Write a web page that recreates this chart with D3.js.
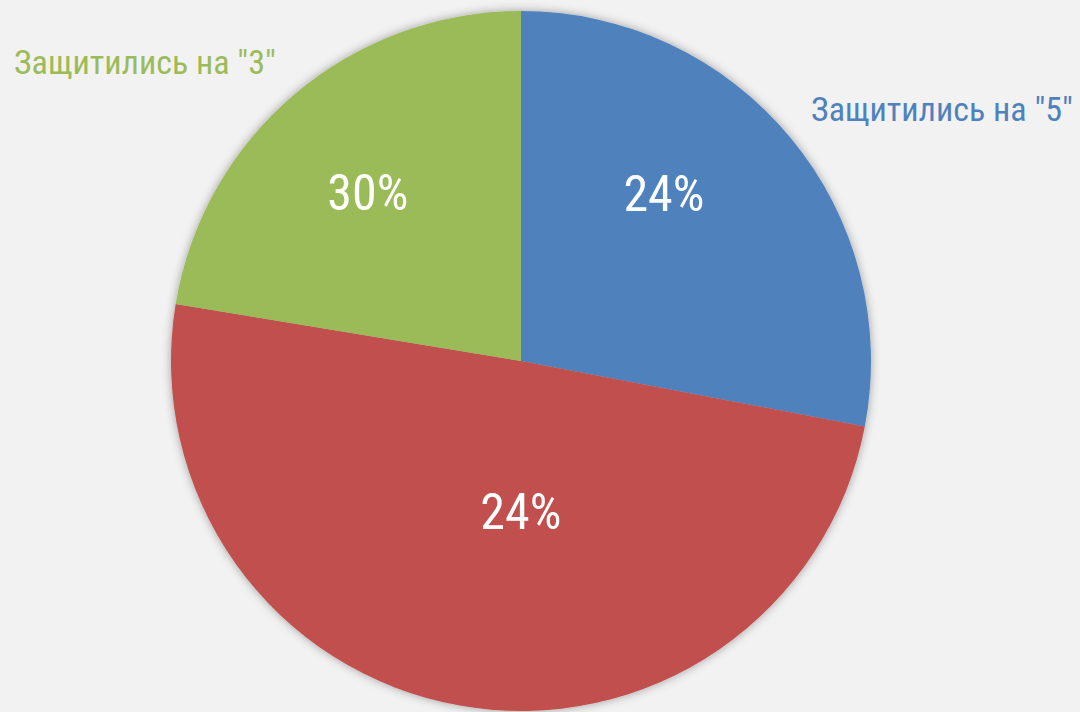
<!DOCTYPE html>
<html>
<head>
  <meta charset="utf-8">
  <script src="https://d3js.org/d3.v7.min.js"></script>
  <style>
    body { margin: 0; background: #f2f2f2; }
    svg { display: block; }
    .cat { font-family: 'Liberation Sans Narrow', 'Roboto Condensed', 'Roboto', sans-serif; font-size: 34px; }
    .pct { font-family: 'Liberation Sans Narrow', 'Roboto Condensed', 'Roboto', sans-serif; font-size: 50px; fill: #fff; }
  </style>
</head>
<body>
<div id="chart"></div>
<script>
  // slice shares (clockwise from 12 o'clock)
  var slices = ["five", "four", "three"];
  var shares = [28.0, 49.6, 22.4];
  var pctLabels = ["24%", "24%", "30%"];
  var catLabels = ["Защитились на \"5\"", "", "Защитились на \"3\""];
  var colors = ["#4f81bd", "#c0504d", "#9bbb59"];

  var width = 1080, height = 712;
  var cx = 521, cy = 361, r = 350;

  var svg = d3.select("#chart").append("svg")
      .attr("width", width)
      .attr("height", height);

  svg.append("rect").attr("width", width).attr("height", height).attr("fill", "#f2f2f2");

  // soft shadow round the pie
  var f = svg.append("defs").append("filter")
      .attr("id", "shadow")
      .attr("x", "-10%").attr("y", "-10%")
      .attr("width", "120%").attr("height", "120%");
  f.append("feGaussianBlur").attr("in", "SourceAlpha").attr("stdDeviation", 5).attr("result", "b");
  f.append("feFlood").attr("flood-color", "#000").attr("flood-opacity", 0.35);
  f.append("feComposite").attr("in2", "b").attr("operator", "in").attr("result", "s");
  var m = f.append("feMerge");
  m.append("feMergeNode").attr("in", "s");
  m.append("feMergeNode").attr("in", "SourceGraphic");

  var data = slices.map(function(k, i) {
    return { key: k, value: shares[i], pct: pctLabels[i], cat: catLabels[i], color: colors[i] };
  });

  var pie = d3.pie().sort(null).value(function(d) { return d.value; });
  var arc = d3.arc().innerRadius(0).outerRadius(r);
  var arcs = pie(data);

  var g = svg.append("g").attr("transform", "translate(" + cx + "," + cy + ")");

  g.append("g").attr("filter", "url(#shadow)")
    .selectAll("path")
    .data(arcs)
    .join("path")
      .attr("d", arc)
      .attr("fill", function(d) { return d.data.color; });

  // label placement, in the spirit of the original (angle offset in deg, radius fraction)
  var labelPos = [[-10, 0.63], [-10, 0.43], [-2, 0.65]];
  g.selectAll("text.pct")
    .data(arcs)
    .join("text")
      .attr("class", "pct")
      .attr("text-anchor", "middle")
      .attr("dy", "0.35em")
      .attr("transform", function(d, i) {
        var a = (d.startAngle + d.endAngle) / 2 + labelPos[i][0] * Math.PI / 180;
        var rr = r * labelPos[i][1];
        return "translate(" + (Math.sin(a) * rr) + "," + (-Math.cos(a) * rr) + ")";
      })
      .text(function(d) { return d.data.pct; });

  // category labels outside the pie
  svg.append("text").attr("class", "cat")
      .attr("x", 14).attr("y", 74)
      .attr("fill", colors[2])
      .text(catLabels[2]);

  svg.append("text").attr("class", "cat")
      .attr("x", 1073).attr("y", 121)
      .attr("text-anchor", "end")
      .attr("fill", colors[0])
      .text(catLabels[0]);
</script>
</body>
</html>
